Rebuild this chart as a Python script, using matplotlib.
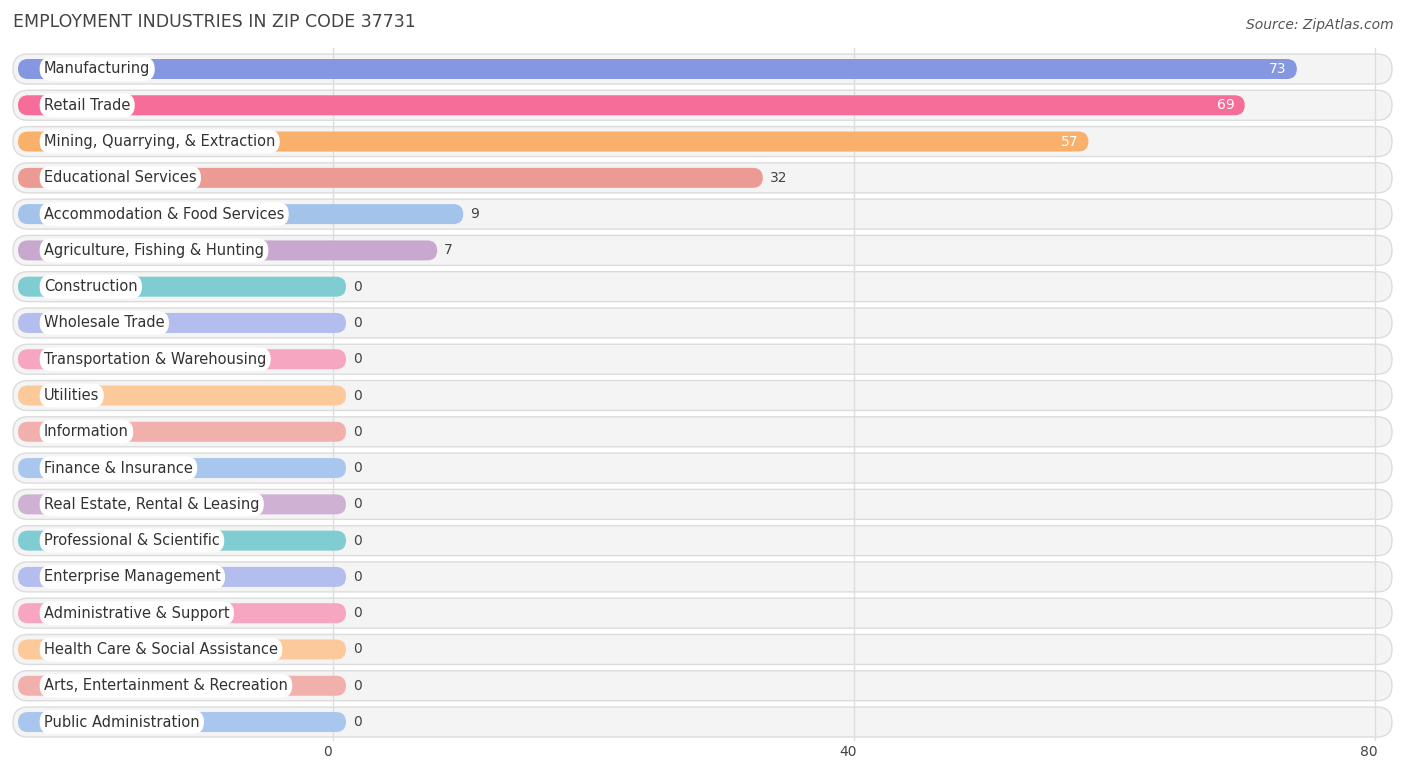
import matplotlib.pyplot as plt
from matplotlib.patches import FancyBboxPatch

# data
industries = ["Manufacturing", "Retail Trade", "Mining, Quarrying, & Extraction",
              "Educational Services", "Accommodation & Food Services",
              "Agriculture, Fishing & Hunting", "Construction", "Wholesale Trade",
              "Transportation & Warehousing", "Utilities", "Information",
              "Finance & Insurance", "Real Estate, Rental & Leasing",
              "Professional & Scientific", "Enterprise Management",
              "Administrative & Support", "Health Care & Social Assistance",
              "Arts, Entertainment & Recreation", "Public Administration"]
values = [73, 69, 57, 32, 9, 7, 0, 0, 0, 0, 0, 0, 0, 0, 0, 0, 0, 0, 0]
colors = ["#8497e0", "#f56d98", "#f9b06b", "#eb9a94", "#a3c3ea", "#c9a8cf",
          "#7fcdd2", "#b3bdee", "#f7a6c2", "#fcc99a", "#f2b0ad", "#a9c6ee",
          "#cfb1d4", "#7fcdd2", "#b3bdee", "#f7a6c2", "#fcc99a", "#f2b0ad", "#a9c6ee"]
ticks = [0, 40, 80]

W, H = 1406, 777
fig = plt.figure(figsize=(W / 100, H / 100), dpi=100)
ax = fig.add_axes([0, 0, 1, 1])
ax.set_xlim(0, W)
ax.set_ylim(H, 0)
ax.axis("off")

x0, unit = 333, 13.025
def xpx(v):
    return x0 + v * unit

y_first, step = 69, 36.28

for t in ticks:
    ax.plot([xpx(t), xpx(t)], [48, 740], color="#dddddd", lw=1, zorder=1)
    ax.text(xpx(t) - 6, 752, str(t), ha="center", va="center", fontsize=10, color="#444444")

for i, (name, v, c) in enumerate(zip(industries, values, colors)):
    y = y_first + i * step
    bg = FancyBboxPatch((13, y - 15), 1379, 30, boxstyle="round,pad=0,rounding_size=15",
                        fc="#f4f4f4", ec="#dcdcdc", lw=1, zorder=0)
    ax.add_patch(bg)
    end = xpx(v) + 13
    bar = FancyBboxPatch((18, y - 10), end - 18, 20, boxstyle="round,pad=0,rounding_size=10",
                         fc=c, ec="none", zorder=2)
    ax.add_patch(bar)
    ax.text(44, y, name, ha="left", va="center", fontsize=10.5, color="#333333", zorder=4,
            bbox=dict(boxstyle="round,pad=0.3,rounding_size=0.8", fc="white", ec="none"))
    if v > 40:
        ax.text(end - 10, y, str(v), ha="right", va="center", fontsize=10, color="white", zorder=4)
    else:
        ax.text(end + 7, y, str(v), ha="left", va="center", fontsize=10, color="#444444", zorder=4)

ax.text(13, 22, "EMPLOYMENT INDUSTRIES IN ZIP CODE 37731", ha="left", va="center",
        fontsize=12.5, color="#444444")
ax.text(1394, 25, "Source: ZipAtlas.com", ha="right", va="center", fontsize=10,
        color="#555555", style="italic")

fig.savefig("out.png", dpi=100)
